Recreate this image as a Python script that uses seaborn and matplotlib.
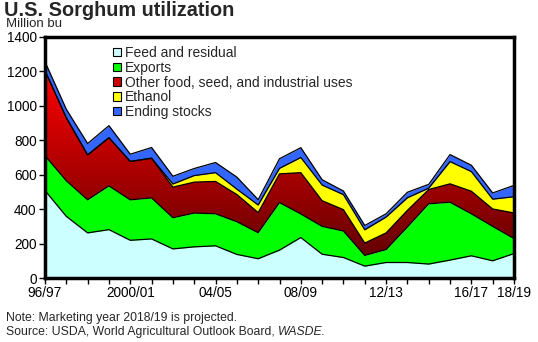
import numpy as np
import pandas as pd
import matplotlib
matplotlib.use("Agg")
import matplotlib.pyplot as plt
import seaborn as sns
from matplotlib.patches import Patch
from matplotlib.colors import LinearSegmentedColormap

years = ["96/97", "97/98", "98/99", "99/00", "2000/01", "01/02", "02/03", "03/04",
         "04/05", "05/06", "06/07", "07/08", "08/09", "09/10", "10/11", "11/12",
         "12/13", "13/14", "14/15", "15/16", "16/17", "17/18", "18/19"]
shown_labels = ["96/97", "2000/01", "04/05", "08/09", "12/13", "16/17", "18/19"]

feed = [508, 358, 262, 281, 219, 227, 169, 181, 187, 137, 112, 162, 235, 138, 119, 69, 90, 90, 81, 104, 129, 100, 142]
exports = [202, 207, 192, 254, 235, 238, 181, 196, 186, 190, 151, 276, 137, 162, 154, 62, 75, 206, 350, 336, 244, 200, 87]
other = [494, 366, 261, 280, 223, 231, 178, 180, 188, 158, 117, 167, 240, 149, 124, 72, 97, 97, 83, 107, 131, 101, 149]
ethanol = [0, 0, 0, 0, 0, 0, 18, 38, 51, 31, 44, 32, 88, 91, 87, 77, 92, 73, 8, 129, 114, 57, 94]
stocks = [52, 49, 66, 70, 42, 62, 45, 41, 59, 70, 31, 56, 57, 31, 21, 25, 19, 32, 22, 41, 37, 36, 66]

series_names = ["Feed and residual", "Exports", "Other food, seed, and industrial uses",
                "Ethanol", "Ending stocks"]
fill_colors = ["#CCFFFF", "#00FF00", "#CC0000", "#FFFF00", "#3366FF"]

sns.set_theme(style="white")
plt.rcParams["font.family"] = ["Liberation Sans", "DejaVu Sans"]

fig = plt.figure(figsize=(5.38, 3.42), dpi=100)
ax = fig.add_axes([45 / 538, 64 / 342, 469 / 538, 241 / 342])

x = np.arange(len(years))
layers = [feed, exports, other, ethanol, stocks]
polys = ax.stackplot(x, *layers, colors=fill_colors, linewidth=0, zorder=1)

# gradient fill for "Other food, seed, and industrial uses"
polys[2].set_facecolor("none")
cmap = LinearSegmentedColormap.from_list(
    "redgrad", [(0.0, (81 / 255, 0, 0)), (1200 / 1400, (1, 0, 0)), (1.0, (1, 0, 0))])
grad = np.linspace(0, 1, 512).reshape(-1, 1)
im = ax.imshow(grad, extent=[0, len(years) - 1, 0, 1400], origin="lower",
               aspect="auto", cmap=cmap, vmin=0, vmax=1, zorder=1.5)
im.set_clip_path(polys[2].get_paths()[0], transform=ax.transData)

# black outlines on top of each layer
cum = np.cumsum(np.array(layers), axis=0)
df = pd.DataFrame({"x": np.tile(x, len(layers)), "y": cum.ravel(),
                   "layer": np.repeat(series_names, len(x))})
sns.lineplot(data=df, x="x", y="y", units="layer", estimator=None,
             color="black", linewidth=0.9, ax=ax, zorder=3, legend=False)

ax.set_xlim(0, len(years) - 1)
ax.set_ylim(0, 1400)
ax.set_xticks(x)
ax.set_xticklabels([y if y in shown_labels else "" for y in years])
ax.set_yticks(range(0, 1401, 200))
ax.set_xlabel("")
ax.set_ylabel("")
ax.tick_params(axis="both", direction="out", length=4, width=1, color="black",
               labelsize=9.8, labelcolor="black", bottom=True, left=True, pad=2)
for s in ax.spines.values():
    s.set_visible(True)
    s.set_color("black")
    s.set_linewidth(2.5)
    s.set_zorder(5)

handles = [Patch(facecolor=c, edgecolor="black", linewidth=0.8) for c in fill_colors]
ax.legend(handles, series_names, loc="upper left", bbox_to_anchor=(0.145, 0.962),
          frameon=False, fontsize=10, handlelength=0.55, handleheight=0.55,
          handletextpad=0.3, labelspacing=0.05, borderpad=0, borderaxespad=0)

fig.text(4 / 538, 1 - 10 / 342, "U.S. Sorghum utilization", fontsize=14.3,
         fontweight="bold", va="center", ha="left")
fig.text(6 / 538, 1 - 24 / 342, "Million bu", fontsize=9.5, va="center", ha="left")
fig.text(6 / 538, 1 - 318 / 342, "Note: Marketing year 2018/19 is projected.",
         fontsize=8.8, va="center", ha="left")
src = fig.text(6 / 538, 1 - 332 / 342,
               "Source: USDA, World Agricultural Outlook Board, ",
               fontsize=8.8, va="center", ha="left")
fig.canvas.draw()
bb = src.get_window_extent()
fig.text(bb.x1 / fig.bbox.width, 1 - 332 / 342, "WASDE.", fontsize=8.8,
         fontstyle="italic", va="center", ha="left")

fig.savefig("out.png", dpi=100)
